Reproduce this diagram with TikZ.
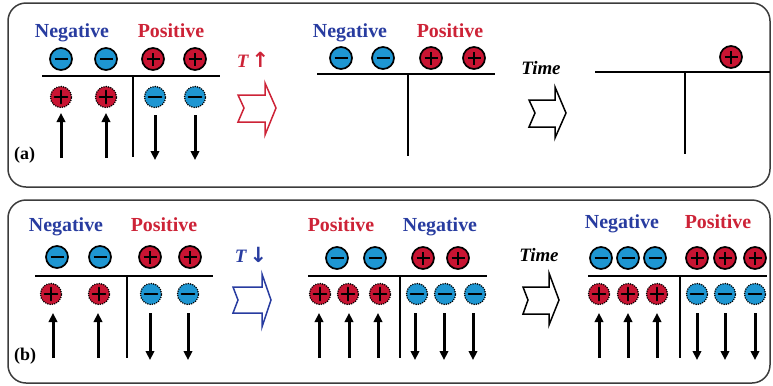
\documentclass[tikz,border=0pt]{standalone}
\usepackage{fontspec}
\setmainfont{Liberation Serif}
\newfontfamily\symfont{DejaVu Sans}
\usetikzlibrary{arrows.meta}
\definecolor{cblue}{RGB}{30,150,210}
\definecolor{cred}{RGB}{200,20,50}
\definecolor{tblue}{RGB}{40,60,160}
\definecolor{tred}{RGB}{205,35,55}
\definecolor{framec}{RGB}{60,60,60}
\tikzset{
  ion/.style={circle, draw=black, line width=1.7bp, minimum size=22bp, inner sep=0pt},
  negion/.style={ion, fill=cblue, path picture={\draw[solid, line width=1.9bp]
      ([xshift=-6.5bp]path picture bounding box.center) -- ([xshift=6.5bp]path picture bounding box.center);}},
  posion/.style={ion, fill=cred, path picture={\draw[solid, line width=1.9bp]
      ([xshift=-6.5bp]path picture bounding box.center) -- ([xshift=6.5bp]path picture bounding box.center)
      ([yshift=-6.5bp]path picture bounding box.center) -- ([yshift=6.5bp]path picture bounding box.center);}},
  dnegion/.style={negion, minimum size=21bp, line width=1.7bp, line cap=round, dash pattern=on 0bp off 2.3bp},
  dposion/.style={posion, minimum size=21bp, line width=1.7bp, line cap=round, dash pattern=on 0bp off 2.3bp},
  lbl/.style={font=\fontsize{20}{23}\selectfont\bfseries, anchor=base, inner sep=0pt},
  tlbl/.style={font=\fontsize{19}{22}\selectfont\bfseries\itshape, anchor=base, inner sep=0pt},
  panel/.style={draw=framec, line width=1.5bp, rounded corners=18bp},
  sep/.style={line width=2.2bp},
  arr/.style={line width=3bp, -{Triangle[length=9bp,width=8.5bp]}},
  blockarr/.style={line width=1.5bp, fill=white, line join=miter}
}
\begin{document}
\begin{tikzpicture}[x=1bp, y=-1bp]
\useasboundingbox (0,0) rectangle (773,385);
% panels
\draw[panel] (8,3) rectangle (770,187);
\draw[panel] (8,200) rectangle (770,383);

%% ===== (a) =====
\node[font=\fontsize{18}{20}\selectfont\bfseries, anchor=base west, inner sep=0pt] (alab) at (14,159) {(a)};
% left
\node[lbl, text=tblue] (aL-neg) at (72,37) {Negative};
\node[lbl, text=tred] (aL-pos) at (171,37) {Positive};
\node[negion] (aL-t1) at (61,59) {};
\node[negion] (aL-t2) at (106,59) {};
\node[posion] (aL-t3) at (153,59) {};
\node[posion] (aL-t4) at (195,59) {};
\coordinate (aL-h1) at (42,76); \coordinate (aL-h2) at (220,76);
\coordinate (aL-v1) at (133,76); \coordinate (aL-v2) at (133,157);
\draw[sep] (aL-h1) -- (aL-h2);
\draw[sep] (aL-v1) -- (aL-v2);
\node[dposion] (aL-b1) at (61,97) {};
\node[dposion] (aL-b2) at (106,97) {};
\node[dnegion] (aL-b3) at (155,97) {};
\node[dnegion] (aL-b4) at (195,97) {};
\foreach \x in {61,106} {\draw[arr] (\x,158) -- (\x,113);}
\foreach \x in {155,195} {\draw[arr] (\x,115) -- (\x,160);}
% red block arrow
\node[font=\fontsize{19}{22}\selectfont\bfseries, text=tred, anchor=base, inner sep=0pt] (aTup) at (253,67) {\itshape T\,{\symfont\upshape\fontsize{21}{22}\selectfont ↑}};
\draw[blockarr, draw=tred] (238,95) -- (265,95) -- (265,83) -- (276,108) -- (265,135) -- (265,122) -- (238,122) -- (244,108) -- cycle;
% middle
\node[lbl, text=tblue] (aM-neg) at (350,37) {Negative};
\node[lbl, text=tred] (aM-pos) at (450,37) {Positive};
\node[negion] (aM-t1) at (341,58) {};
\node[negion] (aM-t2) at (383,58) {};
\node[posion] (aM-t3) at (431,58) {};
\node[posion] (aM-t4) at (474,58) {};
\coordinate (aM-h1) at (317,74); \coordinate (aM-h2) at (495,74);
\coordinate (aM-v1) at (408,74); \coordinate (aM-v2) at (408,156);
\draw[sep] (aM-h1) -- (aM-h2);
\draw[sep] (aM-v1) -- (aM-v2);
% time arrow
\node[tlbl] (aTime) at (541,74) {Time};
\draw[blockarr, draw=black] (529,100) -- (555,100) -- (555,87) -- (566,113) -- (555,138) -- (555,127) -- (529,127) -- (535,113) -- cycle;
% right
\coordinate (aR-h1) at (595,72); \coordinate (aR-h2) at (770,72);
\coordinate (aR-v1) at (685,72); \coordinate (aR-v2) at (685,154);
\draw[sep] (aR-h1) -- (aR-h2);
\draw[sep] (aR-v1) -- (aR-v2);
\node[posion] (aR-t1) at (731,57) {};

%% ===== (b) =====
\node[font=\fontsize{18}{20}\selectfont\bfseries, anchor=base west, inner sep=0pt] (blab) at (14,360) {(b)};
% left
\node[lbl, text=tblue] (bL-neg) at (66,231) {Negative};
\node[lbl, text=tred] (bL-pos) at (164,231) {Positive};
\node[negion] (bL-t1) at (57,257) {};
\node[negion] (bL-t2) at (100,257) {};
\node[posion] (bL-t3) at (150,257) {};
\node[posion] (bL-t4) at (190,257) {};
\coordinate (bL-h1) at (35,276); \coordinate (bL-h2) at (213,276);
\coordinate (bL-v1) at (127,276); \coordinate (bL-v2) at (127,358);
\draw[sep] (bL-h1) -- (bL-h2);
\draw[sep] (bL-v1) -- (bL-v2);
\node[dposion] (bL-b1) at (51,294) {};
\node[dposion] (bL-b2) at (99,294) {};
\node[dnegion] (bL-b3) at (151,294) {};
\node[dnegion] (bL-b4) at (188,294) {};
\foreach \x in {53,98} {\draw[arr] (\x,358) -- (\x,313);}
\foreach \x in {150,188} {\draw[arr] (\x,313) -- (\x,360);}
% blue block arrow
\node[font=\fontsize{19}{22}\selectfont\bfseries, text=tblue, anchor=base, inner sep=0pt] (bTdn) at (251,262) {\itshape T\,{\symfont\upshape\fontsize{21}{22}\selectfont ↓}};
\draw[blockarr, draw=tblue] (233,287) -- (262,287) -- (262,274) -- (271,300) -- (262,327) -- (262,313) -- (233,313) -- (238,300) -- cycle;
% middle
\node[lbl, text=tred] (bM-pos) at (341,231) {Positive};
\node[lbl, text=tblue] (bM-neg) at (440,231) {Negative};
\node[negion] (bM-t1) at (337,258) {};
\node[negion] (bM-t2) at (375,258) {};
\node[posion] (bM-t3) at (423,258) {};
\node[posion] (bM-t4) at (458,258) {};
\coordinate (bM-h1) at (308,276); \coordinate (bM-h2) at (487,276);
\coordinate (bM-v1) at (400,276); \coordinate (bM-v2) at (400,358);
\draw[sep] (bM-h1) -- (bM-h2);
\draw[sep] (bM-v1) -- (bM-v2);
\node[dposion] (bM-b1) at (320,294) {};
\node[dposion] (bM-b2) at (348,294) {};
\node[dposion] (bM-b3) at (380,294) {};
\node[dnegion] (bM-b4) at (417,294) {};
\node[dnegion] (bM-b5) at (445,294) {};
\node[dnegion] (bM-b6) at (475,294) {};
\foreach \x in {319,349,378} {\draw[arr] (\x,358) -- (\x,313);}
\foreach \x in {415,444,473} {\draw[arr] (\x,313) -- (\x,360);}
% time arrow
\node[tlbl] (bTime) at (539,261) {Time};
\draw[blockarr, draw=black] (523,287) -- (549,287) -- (549,273) -- (559,300) -- (549,325) -- (549,314) -- (523,314) -- (528,300) -- cycle;
% right
\node[lbl, text=tblue] (bR-neg) at (622,228) {Negative};
\node[lbl, text=tred] (bR-pos) at (718,228) {Positive};
\node[negion] (bR-t1) at (601,258) {};
\node[negion] (bR-t2) at (628,258) {};
\node[negion] (bR-t3) at (655,258) {};
\node[posion] (bR-t4) at (697,258) {};
\node[posion] (bR-t5) at (725,258) {};
\node[posion] (bR-t6) at (755,258) {};
\coordinate (bR-h1) at (588,276); \coordinate (bR-h2) at (767,276);
\coordinate (bR-v1) at (680,276); \coordinate (bR-v2) at (680,358);
\draw[sep] (bR-h1) -- (bR-h2);
\draw[sep] (bR-v1) -- (bR-v2);
\node[dposion] (bR-b1) at (599,294) {};
\node[dposion] (bR-b2) at (628,294) {};
\node[dposion] (bR-b3) at (657,294) {};
\node[dnegion] (bR-b4) at (697,294) {};
\node[dnegion] (bR-b5) at (725,294) {};
\node[dnegion] (bR-b6) at (755,294) {};
\foreach \x in {599,628,657} {\draw[arr] (\x,358) -- (\x,313);}
\foreach \x in {697,725,755} {\draw[arr] (\x,313) -- (\x,360);}
\end{tikzpicture}
\end{document}
